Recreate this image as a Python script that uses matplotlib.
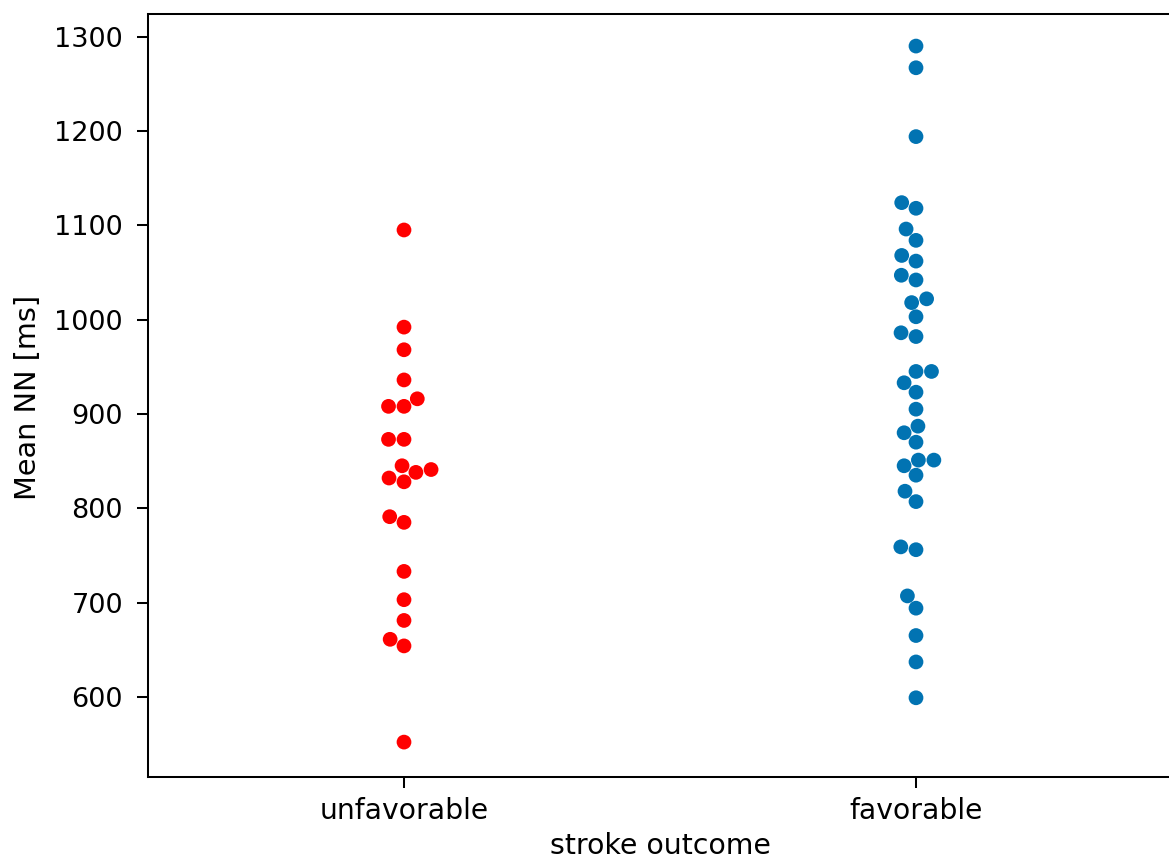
import matplotlib
matplotlib.use("Agg")
import matplotlib.pyplot as plt
import seaborn as sns
import pandas as pd

categories = ["unfavorable", "favorable"]
unfavorable = [1095, 992, 968, 936, 916, 908, 908, 873, 873, 845, 841, 838, 832, 828,
               791, 785, 733, 703, 681, 661, 654, 552]
favorable = [1290, 1267, 1194, 1124, 1118, 1096, 1084, 1068, 1062, 1047, 1042, 1022, 1018,
             1003, 986, 982, 945, 945, 933, 923, 905, 887, 880, 870, 851, 851, 845, 835,
             818, 807, 759, 756, 707, 694, 665, 637, 599]
colors = {"unfavorable": "#ff0000", "favorable": "#0173b2"}

df = pd.DataFrame({
    "outcome": ["unfavorable"] * len(unfavorable) + ["favorable"] * len(favorable),
    "value": unfavorable + favorable,
})

dpi = 183
fig = plt.figure(figsize=(1169 / dpi, 861 / dpi), dpi=dpi)
ax = fig.add_axes([148 / 1169, 1 - 777 / 861, (1172 - 148) / 1169, (777 - 14) / 861])
sns.swarmplot(data=df, x="outcome", y="value", hue="outcome", order=categories,
              palette=colors, size=5.8, ax=ax, legend=False)
ax.set_ylim(515, 1324)
ax.set_yticks([600, 700, 800, 900, 1000, 1100, 1200, 1300])
ax.set_xlabel("stroke outcome", fontsize=11.2)
ax.set_ylabel("Mean NN [ms]", fontsize=11.3)
ax.yaxis.set_label_coords(-0.104, 0.497)
ax.xaxis.set_label_coords(0.5, -0.072)
ax.tick_params(axis="y", labelsize=10.7, length=4.3, pad=5.5)
ax.tick_params(axis="x", labelsize=11.1, length=4.3, pad=3.5)
fig.savefig("out.png", dpi=dpi)
